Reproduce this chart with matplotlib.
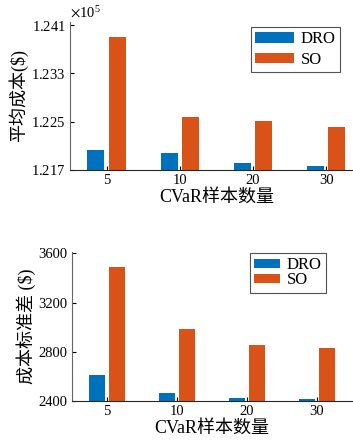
import matplotlib.pyplot as plt
import numpy as np
from matplotlib.ticker import ScalarFormatter

plt.rcParams['font.family'] = ['Liberation Serif', 'Noto Sans CJK SC']
plt.rcParams['mathtext.fontset'] = 'stix'

samples = ['5', '10', '20', '30']
mean_dro = [122030, 121980, 121820, 121770]
mean_so = [123900, 122580, 122510, 122410]
std_dro = [2608, 2462, 2422, 2416]
std_so = [3492, 2981, 2852, 2827]

blue = '#0072BD'
orange = '#D95319'
width = 0.23
shift = 0.145

fig = plt.figure(figsize=(3.53, 4.4), dpi=100)


def draw(ax, dro, so, ylim, yticks, ylabel, anchor, **legkw):
    x = np.arange(1, len(samples) + 1)
    ax.bar(x - shift, dro, width, color=blue, label='DRO')
    ax.bar(x + shift, so, width, color=orange, label='SO')
    ax.set_xlim(0.5, 4.5)
    ax.set_ylim(*ylim)
    ax.set_yticks(yticks)
    ax.set_xticks(x)
    ax.set_xticklabels(samples)
    for s in ('top', 'right'):
        ax.spines[s].set_visible(False)
    ax.spines['left'].set_color('#666666')
    ax.spines['bottom'].set_color('#262626')
    ax.tick_params(direction='in', length=3, labelsize=10.5, pad=3)
    ax.set_xlabel('CVaR样本数量', fontsize=13, labelpad=1)
    ax.set_ylabel(ylabel, fontsize=13, labelpad=2)
    leg = ax.legend(loc='upper right', bbox_to_anchor=anchor, fontsize=12,
                    frameon=True, fancybox=False, borderpad=0.25,
                    handletextpad=0.4, borderaxespad=0, **legkw)
    leg.get_frame().set_edgecolor('#262626')
    leg.get_frame().set_linewidth(0.8)


# top: mean cost, axes run past the right edge of the figure
ax1 = fig.add_axes([0.198, 0.614, 0.83, 0.336])
draw(ax1, mean_dro, mean_so, (121700, 124150),
     [121700, 122500, 123300, 124100], '平均成本($)', (0.922, 0.966),
     handlelength=2.35, handleheight=0.6, labelspacing=0.28)
fmt = ScalarFormatter(useMathText=True)
fmt.set_powerlimits((0, 0))
fmt.set_useOffset(False)
ax1.yaxis.set_major_formatter(fmt)
ax1.yaxis.get_offset_text().set_fontsize(10.5)

# bottom: standard deviation of cost
ax2 = fig.add_axes([0.204, 0.0886, 0.793, 0.3386])
draw(ax2, std_dro, std_so, (2400, 3610),
     [2400, 2800, 3200, 3600], '成本标准差 ($)', (0.907, 0.993),
     handlelength=1.55, handleheight=0.42, labelspacing=-0.05)

fig.savefig('out.png', dpi=100)
